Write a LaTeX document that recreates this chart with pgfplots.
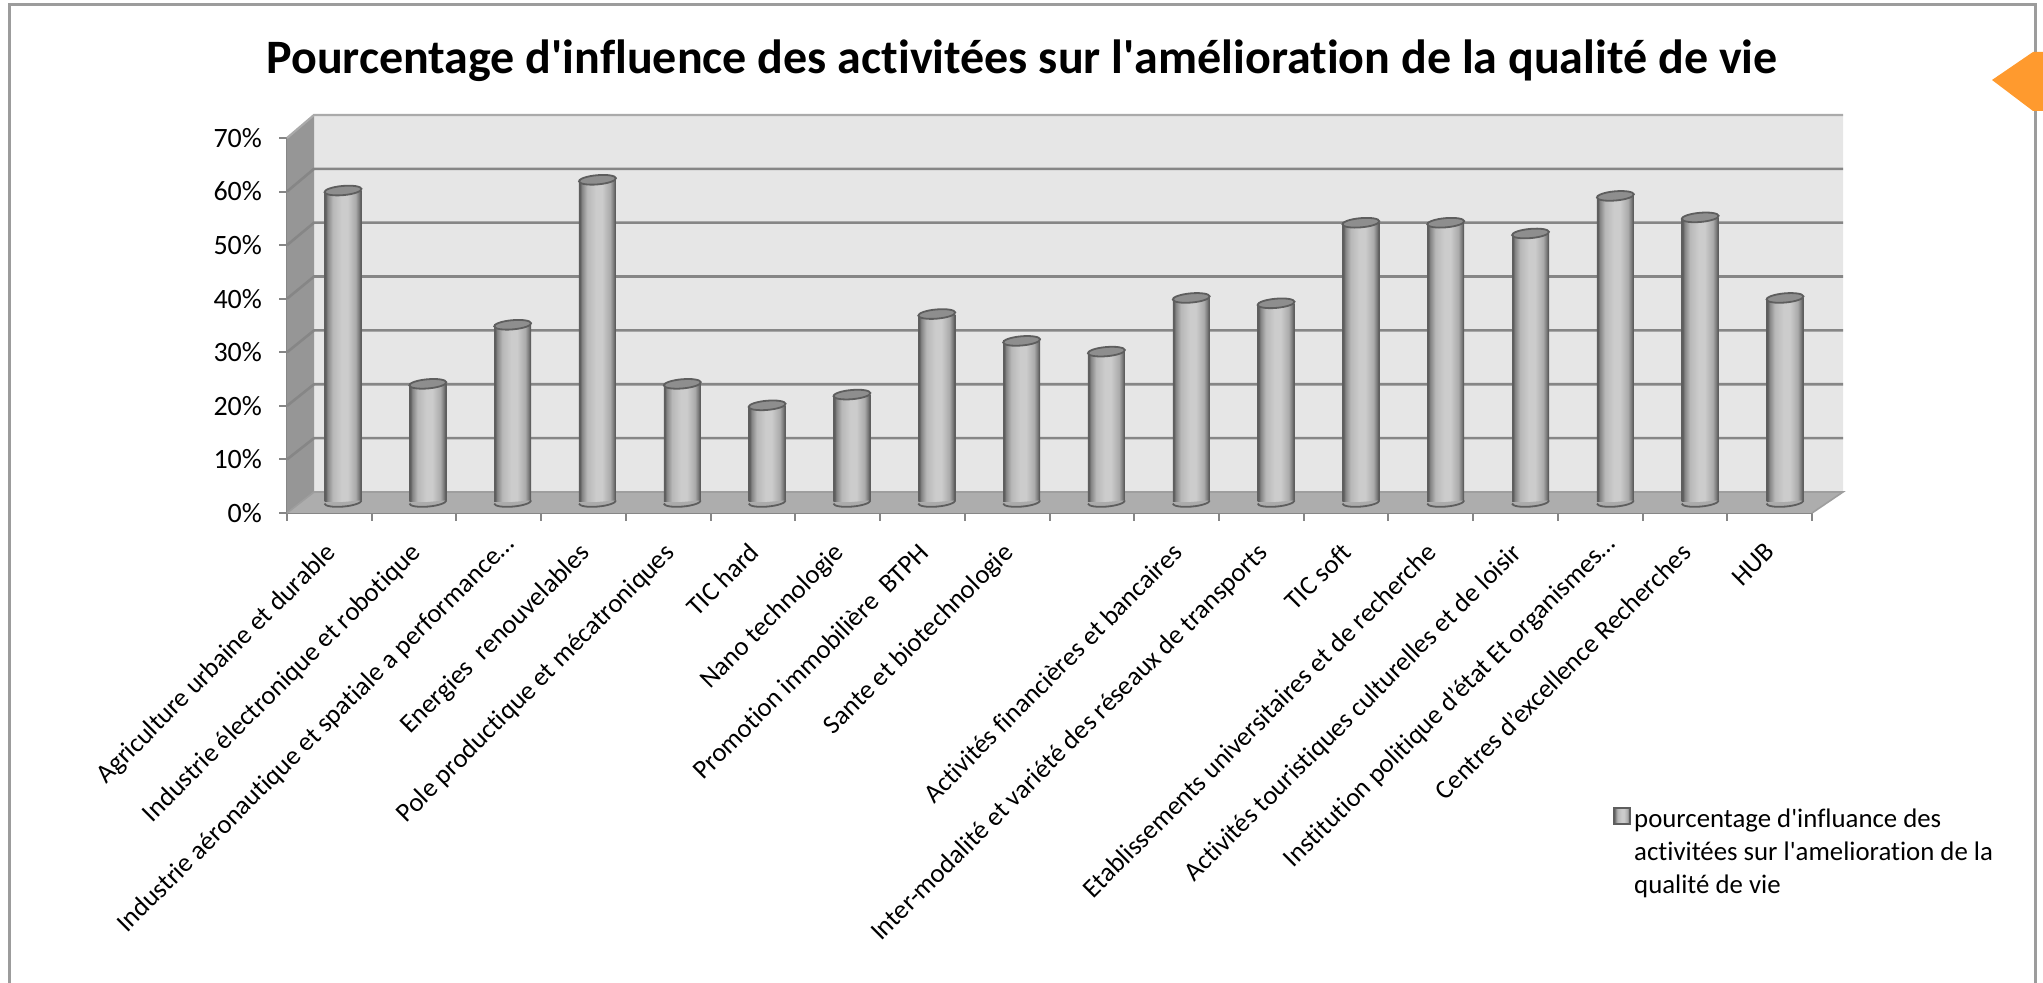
\documentclass[border=0pt]{standalone}
\usepackage{fontspec}
\setmainfont{Carlito}[Ligatures=NoCommon]
\usepackage{pgfplots}
\usepackage{pgfplotstable}
\pgfplotsset{compat=1.18}
\definecolor{wallback}{HTML}{E6E6E6}
\definecolor{wallside}{HTML}{969696}
\definecolor{wallfloor}{HTML}{ADADAD}
\definecolor{gridc}{HTML}{868686}
\definecolor{framec}{HTML}{9C9C9C}
\definecolor{edgec}{HTML}{5E5E5E}
\definecolor{topc}{HTML}{8E8E8E}
\definecolor{basec}{HTML}{ABABAB}
\definecolor{orangec}{HTML}{FF9A2E}
\pgfdeclarehorizontalshading{cyl}{100bp}{
 color(0bp)=(edgec); color(25bp)=(edgec); color(26.5bp)=(edgec);
 color(29bp)=(black!48); color(36bp)=(black!28); color(48bp)=(black!20);
 color(56bp)=(black!20); color(67bp)=(black!33); color(71.5bp)=(black!52);
 color(73.5bp)=(edgec); color(75bp)=(edgec); color(100bp)=(edgec)}
\pgfdeclareplotmark{cyltop}{\pgftransformrotate{5}\pgfpathellipse{\pgfpointorigin}{\pgfpoint{9.25pt}{0pt}}{\pgfpoint{0pt}{2.3pt}}\pgfusepathqfillstroke}
\pgfdeclareplotmark{cylbase}{\pgftransformrotate{5}\pgfpathmoveto{\pgfqpoint{-9.25pt}{0pt}}\pgfpatharc{180}{360}{9.25pt and 2.3pt}\pgfusepathqfillstroke}
\pgfplotstableread{
x v
0 58
1 22
2 33
3 60
4 22
5 18
6 20
7 35
8 30
9 28
10 38
11 37
12 52
13 52
14 50
15 57
16 53
17 38
}\datatable
\pgfplotstableread{
x v
0 0
1 0
2 0
3 0
4 0
5 0
6 0
7 0
8 0
9 0
10 0
11 0
12 0
13 0
14 0
15 0
16 0
17 0
}\basetable
\pgfplotsset{cylbar/.style={forget plot,ybar,bar width=18.5pt,bar shift=0pt,draw=none,shading=cyl,shading angle=0}}
\begin{document}
\begin{tikzpicture}[x=1pt,y=1pt]
\path[use as bounding box] (0,0) rectangle (1021.5,491.5);
\draw[framec,line width=1.5pt] (4.5,-2) -- (4.5,489) -- (1017.5,489) -- (1017.5,-2);
\fill[orangec] (996,451.5) -- (1016.5,465.5) -- (1021.5,465.5) -- (1021.5,436) -- (1016.5,436) -- cycle;
\begin{axis}[
 at={(143.5pt,235pt)},anchor=origin,
 width=762.5pt,height=187.5pt,scale only axis,
 xmin=0,xmax=18,ymin=0,ymax=70,clip=false,
 axis lines=left,
 axis line style={-,draw=gridc,line width=1.2pt},
 tick style={draw=gridc,line width=1pt},
 tick align=outside,
 ytick={0,10,...,70},
 yticklabels={0\%,10\%,20\%,30\%,40\%,50\%,60\%,70\%},
 major tick length=4pt,
 xtick={0.5,1.5,...,17.5},
 minor xtick={0,1,...,18},
 x tick style={draw=none},
 minor x tick style={draw=gridc,line width=1pt},
 minor tick length=4pt,
 xticklabels={Agriculture urbaine et durable,Industrie électronique et robotique,Industrie aéronautique et spatiale a performance…\kern-6.5pt,Energies\ \ renouvelables,Pole productique et mécatroniques,TIC hard,Nano technologie,Promotion immobilière\ \ BTPH,Sante et biotechnologie,{},Activités financières et bancaires,Inter-modalité et variété des réseaux de transports,TIC soft,Etablissements universitaires et de recherche,Activités touristiques culturelles et de loisir,Institution politique d’état Et organismes…\kern-6.5pt,Centres d’excellence Recherches,HUB},
 tick label style={font=\fontsize{13.3}{16}\selectfont,text=black},
 yticklabel style={font=\fontsize{14}{16}\selectfont,xshift=-5pt},
 xticklabel style={rotate=45,anchor=north east,inner sep=0pt,yshift=-5pt,xshift=-9pt},
 title={\fontsize{24}{28}\selectfont\bfseries Pourcentage d\textquotesingle influence des activitées sur l\textquotesingle amélioration de la qualité de vie},
 title style={at={(rel axis cs:0.482,1.173)},anchor=center,inner sep=0pt},
]
\addplot[fill=wallback,draw=none] coordinates {(0.319,3.92)(18.366,3.92)(18.366,74.30)(0.319,74.30)} \closedcycle;
\addplot[fill=wallside,draw=none] coordinates {(0,0)(0.319,3.92)(0.319,74.30)(0,70)} --cycle;
\addplot[fill=wallfloor,draw=none] coordinates {(0,0)(18,0)(18.366,3.92)(0.319,3.92)} --cycle;
\addplot[gridc!70!white,line width=1.1pt] coordinates {(0,70)(0.319,74.30)(18.366,74.30)};
\addplot[gridc,line width=1.3pt] coordinates {(0,60)(0.319,64.24)(18.366,64.24)};
\addplot[gridc,line width=1.3pt] coordinates {(0,50)(0.319,54.19)(18.366,54.19)};
\addplot[gridc,line width=1.3pt] coordinates {(0,40)(0.319,44.14)(18.366,44.14)};
\addplot[gridc,line width=1.3pt] coordinates {(0,30)(0.319,34.08)(18.366,34.08)};
\addplot[gridc,line width=1.3pt] coordinates {(0,20)(0.319,24.03)(18.366,24.03)};
\addplot[gridc,line width=1.3pt] coordinates {(0,10)(0.319,13.97)(18.366,13.97)};
\addplot[gridc!80!white,line width=0.8pt] coordinates {(0,0)(0.319,3.92)(18.366,3.92)(18,0)};
\end{axis}
\begin{axis}[
 at={(171.5pt,240.5pt)},anchor=origin,
 width=721pt,height=187.95pt,scale only axis,
 xmin=0,xmax=17,ymin=0,ymax=70,clip=false,
 hide axis,
 legend cell align=left,
 legend style={at={(1.0,-0.7)},anchor=north west,draw=none,fill=none,inner sep=0pt,outer sep=0pt,
  xshift=-86pt,yshift=-20pt,font=\fontsize{13.4}{16.3}\selectfont,
  nodes={inner sep=0pt}},
]
\addplot[forget plot,only marks,mark=cylbase,mark options={fill=basec,draw=edgec,line width=.9pt}] table[x=x,y=v] {\basetable};
\addplot[ybar,bar width=18.5pt,bar shift=0pt,draw=none,shading=cyl,shading angle=0,
 legend image code/.code={\draw[fill=black!25,draw=edgec,line width=1.1pt] (0pt,-3pt) rectangle (8pt,5pt);}] coordinates {(0,58)};
\addlegendentry{\hspace{1.5pt}\begin{tabular}[t]{@{}l@{}}pourcentage d\textquotesingle influance des\\activitées sur l\textquotesingle amelioration de la\\qualité de vie\end{tabular}}
\addplot[cylbar] coordinates {(1,22)};
\addplot[cylbar] coordinates {(2,33)};
\addplot[cylbar] coordinates {(3,60)};
\addplot[cylbar] coordinates {(4,22)};
\addplot[cylbar] coordinates {(5,18)};
\addplot[cylbar] coordinates {(6,20)};
\addplot[cylbar] coordinates {(7,35)};
\addplot[cylbar] coordinates {(8,30)};
\addplot[cylbar] coordinates {(9,28)};
\addplot[cylbar] coordinates {(10,38)};
\addplot[cylbar] coordinates {(11,37)};
\addplot[cylbar] coordinates {(12,52)};
\addplot[cylbar] coordinates {(13,52)};
\addplot[cylbar] coordinates {(14,50)};
\addplot[cylbar] coordinates {(15,57)};
\addplot[cylbar] coordinates {(16,53)};
\addplot[cylbar] coordinates {(17,38)};
\addplot[forget plot,only marks,mark=cyltop,mark options={fill=topc,draw=edgec,line width=.9pt}] table[x=x,y=v] {\datatable};
\end{axis}
\end{tikzpicture}
\end{document}
